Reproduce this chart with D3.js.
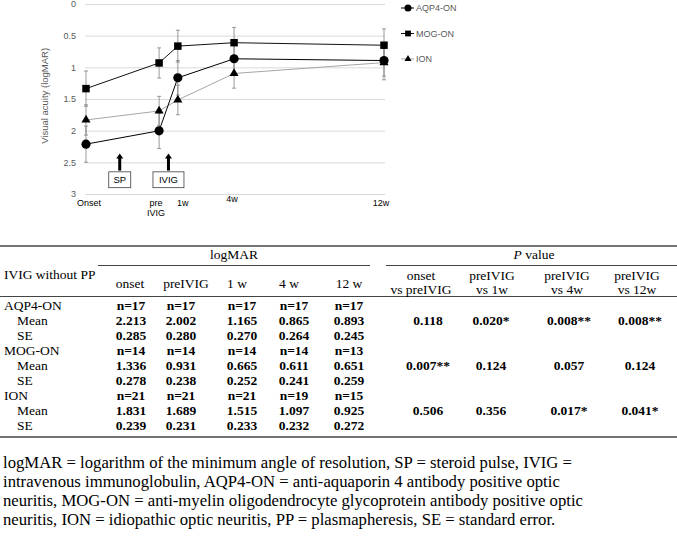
<!DOCTYPE html>
<html>
<head>
<meta charset="utf-8">
<script src="https://cdn.jsdelivr.net/npm/d3@7"></script>
<style>
  body { margin: 0; background: #fff; }
  svg { display: block; }
</style>
</head>
<body>
<script>
// chart data
const timepoints = ["Onset", "pre|IVIG", "1w", "4w", "12w"];
const weeks = [-3.9, 0, 1, 4, 12];
const groups = ["AQP4-ON", "MOG-ON", "ION"];
const meanAQP4 = [2.213, 2.002, 1.165, 0.865, 0.893];
const meanMOG = [1.336, 0.931, 0.665, 0.611, 0.651];
const meanION = [1.831, 1.689, 1.515, 1.097, 0.925];
const seAQP4 = [0.285, 0.280, 0.270, 0.264, 0.245];
const seMOG = [0.278, 0.238, 0.252, 0.241, 0.259];
const seION = [0.239, 0.231, 0.233, 0.232, 0.272];
const nAQP4 = [17, 17, 17, 17, 17];
const nMOG = [14, 14, 14, 14, 13];
const nION = [21, 21, 21, 19, 15];
const pAQP4 = ["0.118", "0.020*", "0.008**", "0.008**"];
const pMOG = ["0.007**", "0.124", "0.057", "0.124"];
const pION = ["0.506", "0.356", "0.017*", "0.041*"];
const yTicks = [0, 0.5, 1, 1.5, 2, 2.5, 3];
const treatments = ["SP", "IVIG"];
const treatmentWeeks = [-2.1, 0.5];
const tableCols = ["onset", "preIVIG", "1 w", "4 w", "12 w"];
const pCols = [["onset", "vs preIVIG"], ["preIVIG", "vs 1w"], ["preIVIG", "vs 4w"], ["preIVIG", "vs 12w"]];
const notes = [
  "logMAR = logarithm of the minimum angle of resolution, SP = steroid pulse, IVIG =",
  "intravenous immunoglobulin, AQP4-ON = anti-aquaporin 4 antibody positive optic",
  "neuritis, MOG-ON = anti-myelin oligodendrocyte glycoprotein antibody positive optic",
  "neuritis, ION = idiopathic optic neuritis, PP = plasmapheresis, SE = standard error."
];

const w = 677;
const h = 539;
const sans = "'Liberation Sans', Arial, sans-serif";
const serif = "'Liberation Serif', 'Times New Roman', serif";
const grey = "#595959";

const svg = d3.select("body").append("svg").attr("width", w).attr("height", h);

// * SCALES
const xScale = d3.scaleLinear().domain([-3.9, 12]).range([86, 384]);
const yScale = d3.scaleLinear().domain([0, 3]).range([4, 194]);

// * GRID + Y AXIS
const yAxis = d3.axisLeft(yScale).tickValues(yTicks).tickSize(-300).tickFormat(d3.format("~g"));
const gy = svg.append("g").attr("transform", "translate(85,0)").call(yAxis);
gy.select(".domain").remove();
gy.selectAll(".tick line").attr("stroke", "#d9d9d9");
gy.selectAll(".tick text").attr("x", -9).attr("fill", grey)
  .style("font-family", sans).style("font-size", "9px");

svg.append("text")
  .attr("transform", "translate(48," + yScale(1.45) + ") rotate(-90)")
  .attr("text-anchor", "middle")
  .attr("fill", grey)
  .style("font-family", sans).style("font-size", "9.5px")
  .text("Visual acuity (logMAR)");

// * X LABELS (hand-placed text boxes in the original, so small nudges)
const labelDx = [3, -3, 5, -2, -3];
const labelDy = [0, 0, 0, -4, 0];
timepoints.forEach((t, i) => {
  const lx = xScale(weeks[i]) + labelDx[i];
  const txt = svg.append("text")
    .attr("y", 206 + labelDy[i])
    .attr("text-anchor", "middle")
    .attr("fill", "#000")
    .style("font-family", sans).style("font-size", "9px");
  t.split("|").forEach((l, j) => txt.append("tspan").attr("x", lx).attr("dy", j ? 10 : 0).text(l));
});

// * SERIES
const series = [
  { name: groups[0], mean: meanAQP4, se: seAQP4, line: "#000", shape: d3.symbolCircle, size: 66 },
  { name: groups[1], mean: meanMOG, se: seMOG, line: "#111", shape: d3.symbolSquare, size: 56 },
  { name: groups[2], mean: meanION, se: seION, line: "#a6a6a6", shape: d3.symbolTriangle, size: 36 }
];

const line = d3.line().x((d) => xScale(d[0])).y((d) => yScale(d[1]));

// lines first
series.slice().reverse().forEach((s) => {
  svg.append("path")
    .datum(weeks.map((wk, i) => [wk, s.mean[i]]))
    .attr("d", line)
    .attr("fill", "none")
    .attr("stroke", s.line)
    .attr("stroke-width", 1);
});

// error bars
series.forEach((s) => {
  weeks.forEach((wk, i) => {
    const x = xScale(wk);
    const y1 = yScale(s.mean[i] - s.se[i]);
    const y2 = yScale(s.mean[i] + s.se[i]);
    const g = svg.append("g").attr("stroke", "#808080").attr("stroke-width", 0.8);
    g.append("line").attr("x1", x).attr("x2", x).attr("y1", y1).attr("y2", y2);
    g.append("line").attr("x1", x - 2).attr("x2", x + 2).attr("y1", y1).attr("y2", y1);
    g.append("line").attr("x1", x - 2).attr("x2", x + 2).attr("y1", y2).attr("y2", y2);
  });
});

// markers
series.forEach((s) => {
  svg.selectAll(null)
    .data(s.mean)
    .enter()
    .append("path")
    .attr("d", d3.symbol().type(s.shape).size(s.size))
    .attr("transform", (d, i) => "translate(" + xScale(weeks[i]) + "," + yScale(d) + ")")
    .attr("fill", "#000");
});

// * LEGEND
series.forEach((s, i) => {
  const ly = 8 + i * 25.5;
  svg.append("line").attr("x1", 401).attr("x2", 414).attr("y1", ly).attr("y2", ly)
    .attr("stroke", s.line).attr("stroke-width", 1);
  svg.append("path").attr("d", d3.symbol().type(s.shape).size(s.size * 0.6))
    .attr("transform", "translate(408," + ly + ")").attr("fill", "#000");
  svg.append("text").attr("x", 416).attr("y", ly + 3.2).attr("fill", grey)
    .style("font-family", sans).style("font-size", "9px").text(s.name);
});

// * TREATMENT ARROWS
treatments.forEach((t, i) => {
  const x = xScale(treatmentWeeks[i]);
  const tip = yScale(2.36);
  const base = yScale(2.63);
  svg.append("path")
    .attr("d", "M" + x + "," + tip + "L" + (x + 3.5) + "," + (tip + 5) + "L" + (x - 3.5) + "," + (tip + 5) + "Z")
    .attr("fill", "#000");
  svg.append("line").attr("x1", x).attr("x2", x).attr("y1", tip + 4).attr("y2", base)
    .attr("stroke", "#000").attr("stroke-width", 3);
  const bw = t.length * 4.5 + 13;
  svg.append("rect").attr("x", x - bw / 2).attr("y", yScale(2.65)).attr("width", bw)
    .attr("height", yScale(2.9) - yScale(2.65))
    .attr("fill", "#fff").attr("stroke", "#404040").attr("stroke-width", 0.8);
  svg.append("text").attr("x", x).attr("y", yScale(2.775) + 3.3).attr("text-anchor", "middle")
    .attr("fill", "#000").style("font-family", sans).style("font-size", "9.5px").text(t);
});

// * TABLE
const table = svg.append("g").style("font-family", serif).style("font-size", "13.5px").attr("fill", "#000");
const rule = (x1, x2, y, sw) => table.append("line").attr("x1", x1).attr("x2", x2).attr("y1", y).attr("y2", y)
  .attr("stroke", "#444").attr("stroke-width", sw);
rule(0, w, 246, 1.4);
rule(98, 370, 265.5, 1);
rule(386, w, 265.5, 1);
rule(0, w, 296.5, 1);
rule(0, w, 437, 1.4);

const colX = [131, 181, 242, 294, 349];
const headX = [130, 186, 237, 289, 349];
const pX = [428, 491, 569, 640];
const pHeadX = [421, 492, 567, 637];

table.append("text").attr("x", 234).attr("y", 258.5).attr("text-anchor", "middle").text("logMAR");
const pv = table.append("text").attr("x", 534).attr("y", 258.5).attr("text-anchor", "middle");
pv.append("tspan").style("font-style", "italic").text("P");
pv.append("tspan").text(" value");
table.append("text").attr("x", 4).attr("y", 278.5).text("IVIG without PP");
tableCols.forEach((c, i) => table.append("text").attr("x", headX[i]).attr("y", 287.5)
  .attr("text-anchor", "middle").text(c));
pCols.forEach((c, i) => {
  c.forEach((l, j) => table.append("text").attr("x", pHeadX[i]).attr("y", 279.5 + j * 14)
    .attr("text-anchor", "middle").text(l));
});

const rows = [
  { name: groups[0], n: nAQP4, mean: meanAQP4, se: seAQP4, p: pAQP4 },
  { name: groups[1], n: nMOG, mean: meanMOG, se: seMOG, p: pMOG },
  { name: groups[2], n: nION, mean: meanION, se: seION, p: pION }
];
const rowStep = 15.1;
rows.forEach((r, k) => {
  const y0 = 309.5 + k * 3 * rowStep;
  table.append("text").attr("x", 4).attr("y", y0).text(r.name);
  table.append("text").attr("x", 17).attr("y", y0 + rowStep).text("Mean");
  table.append("text").attr("x", 17).attr("y", y0 + 2 * rowStep).text("SE");
  colX.forEach((x, i) => {
    table.append("text").attr("x", x).attr("y", y0).attr("text-anchor", "middle")
      .style("font-weight", "bold").text("n=" + r.n[i]);
    table.append("text").attr("x", x).attr("y", y0 + rowStep).attr("text-anchor", "middle")
      .style("font-weight", "bold").text(r.mean[i].toFixed(3));
    table.append("text").attr("x", x).attr("y", y0 + 2 * rowStep).attr("text-anchor", "middle")
      .style("font-weight", "bold").text(r.se[i].toFixed(3));
  });
  pX.forEach((x, i) => table.append("text").attr("x", x).attr("y", y0 + rowStep)
    .attr("text-anchor", "middle").style("font-weight", "bold").text(r.p[i]));
});

// * FOOTNOTE
svg.append("g").selectAll("text")
  .data(notes)
  .enter()
  .append("text")
  .attr("x", 3)
  .attr("y", (d, i) => 468 + i * 19)
  .attr("fill", "#000")
  .style("font-family", serif).style("font-size", "16.7px")
  .text((d) => d);
</script>
</body>
</html>
